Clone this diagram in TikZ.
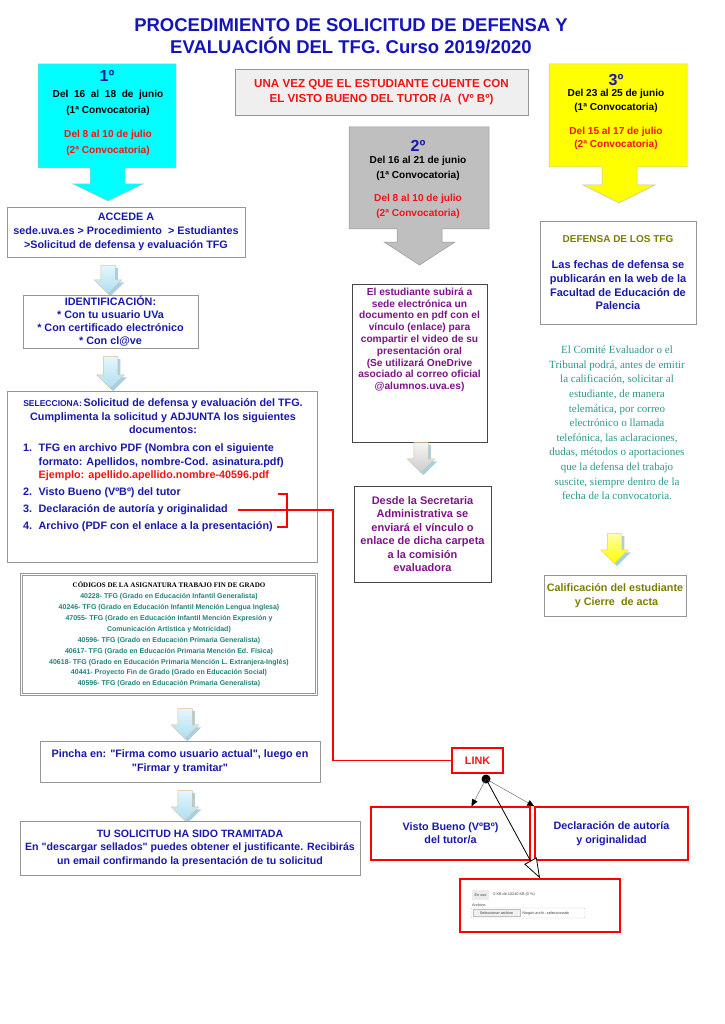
\documentclass[tikz,border=0pt]{standalone}
\usepackage{fontspec}
\setmainfont{Liberation Sans}
\newfontfamily\timesfont{Liberation Serif}
\usetikzlibrary{positioning,shapes.arrows,shadows,arrows.meta}

\definecolor{titleblue}{RGB}{20,20,185}
\definecolor{txtblue}{RGB}{25,25,170}
\definecolor{txtred}{RGB}{245,20,20}
\definecolor{frame}{RGB}{150,150,150}
\definecolor{darkframe}{RGB}{70,70,70}
\definecolor{aquafill}{RGB}{0,255,255}
\definecolor{grayfill}{RGB}{191,191,191}
\definecolor{palefill}{RGB}{239,239,239}
\definecolor{yellowfill}{RGB}{255,255,0}
\definecolor{purpletxt}{RGB}{125,20,135}
\definecolor{olivetxt}{RGB}{125,125,0}
\definecolor{tealtxt}{RGB}{45,150,140}
\definecolor{tealcode}{RGB}{30,130,120}
\definecolor{skytop}{RGB}{228,246,252}
\definecolor{skybot}{RGB}{175,222,240}
\definecolor{tanline}{RGB}{215,190,150}
\definecolor{shadowblue}{RGB}{60,150,200}

\newcommand{\setfs}[2]{\fontsize{#1}{#2}\selectfont}
\newcommand{\q}{\textquotedbl}

\begin{document}
\begin{tikzpicture}[x=1pt,y=-1pt,
  every node/.style={inner sep=0pt,font=\setfs{10.8}{14}\bfseries},
  box/.style={draw=frame,line width=.8pt,fill=white,align=center},
  redbox/.style={draw=red,line width=1.4pt,fill=white,align=center,text=txtblue},
  blocktail/.style={single arrow,shape border rotate=270,minimum height=30,
    inner sep=7pt,single arrow head extend=6.5pt,draw=tanline,line width=.5pt,
    drop shadow={shadow xshift=2.5pt,shadow yshift=-2.5pt,fill=shadowblue,opacity=.45}},
  skyarrow/.style={blocktail,top color=skytop,bottom color=skybot},
  grayarrow/.style={blocktail,top color=gray!8,bottom color=gray!40},
  yellowarrow/.style={blocktail,top color=yellow!35,bottom color=yellowfill,draw=yellow!70!orange},
  datefont/.style={align=center,font=\setfs{10.1}{#1}\bfseries},
  widget/.style={font=\setfs{3.8}{4.5}\mdseries,text=black!75},
  redlink/.style={draw=red,line width=1.2pt},
  thinlink/.style={draw=gray!70!black,line width=.4pt,-{Triangle[black,length=7pt,width=6pt]}}]
  \useasboundingbox (0,0) rectangle (724,1024);

  \node (T) at (351,36) [text=titleblue,align=center,font=\setfs{18.5}{22}\bfseries]
    {PROCEDIMIENTO DE SOLICITUD DE DEFENSA Y\\EVALUACIÓN DEL TFG. Curso 2019/2020};

  % the three dated boxes
  \filldraw[draw=frame!60,fill=aquafill,line width=.5pt] (38,64) -- (176,64) -- (176,168) -- (125,168) -- (125,184) -- (143,184) -- (108,201) -- (73,184) -- (90,184) -- (90,168) -- (38,168) -- cycle;
  \filldraw[draw=frame,fill=grayfill,line width=.5pt] (349,127) -- (489,127) -- (489,229) -- (442,229) -- (442,242) -- (455,242) -- (419.5,265) -- (384,242) -- (397,242) -- (397,229) -- (349,229) -- cycle;
  \filldraw[draw=frame!60,fill=yellowfill,line width=.5pt] (549,64) -- (687,64) -- (687,167) -- (637,167) -- (637,185) -- (655,185) -- (619,203) -- (583,185) -- (602,185) -- (602,167) -- (549,167) -- cycle;
  \node (O1) at (107,76) [text=txtblue,font=\setfs{16}{16}\bfseries] {1º};
  \node (F1) at (108,123) [datefont=16]
    {Del \ 16 \ al \ 18 \ de \ junio\\(1ª Convocatoria)\\[8pt]\textcolor{txtred}{Del 8 al 10 de julio}\\\textcolor{txtred}{(2ª Convocatoria)}};
  \node (O2) at (418,146) [text=txtblue,font=\setfs{16}{16}\bfseries] {2º};
  \node (F2) at (418,187) [datefont=15]
    {Del 16 al 21 de junio\\(1ª Convocatoria)\\[8pt]\textcolor{txtred}{Del 8 al 10 de julio}\\\textcolor{txtred}{(2ª Convocatoria)}};
  \node (O3) at (616,80) [text=txtblue,font=\setfs{16}{16}\bfseries] {3º};
  \node (F3) at (616,119.5) [datefont=13.5]
    {Del 23 al 25 de junio\\(1ª Convocatoria)\\[10.5pt]\textcolor{txtred}{Del 15 al 17 de julio}\\\textcolor{txtred}{(2ª Convocatoria)}};

  \node (VB0) at (381.5,92) [box,fill=palefill,minimum width=293,minimum height=46,text=txtred,font=\setfs{11.6}{15}\bfseries]
    {UNA VEZ QUE EL ESTUDIANTE CUENTE CON\\EL VISTO BUENO DEL TUTOR /A \ (Vº Bº)};

  % left column
  \node (ACC) at (126,232) [box,minimum width=238,minimum height=50,text=txtblue]
    {ACCEDE A\\sede.uva.es > Procedimiento \ > Estudiantes\\>Solicitud de defensa y evaluación TFG};
  \node (A1) at (108,276) [skyarrow,minimum height=28] {};
  \node (ID) at (110.5,321.5) [box,minimum width=175,minimum height=53,text=txtblue,font=\setfs{10.8}{13}\bfseries]
    {IDENTIFICACIÓN:\\* Con tu usuario UVa\\* Con certificado electrónico\\* Con cl@ve};
  \node (A2) at (110.5,369) [skyarrow,minimum height=32] {};
  \node (SEL) at (162,476.5) [box,minimum width=310,minimum height=171] {};
  \node (SH) at (163,416.5) [text=txtblue,align=center,font=\setfs{10.8}{13.5}\bfseries]
    {{\setfs{8.5}{13.5}SELECCIONA:}\,Solicitud de defensa y evaluación del TFG.\\Cumplimenta la solicitud y ADJUNTA los siguientes\\documentos:};
  \node (I1) at (23,462.5) [anchor=west,align=left,text=txtblue,font=\setfs{10.8}{13.5}\bfseries]
    {\makebox[15.5pt][l]{1.}TFG en archivo PDF (Nombra con el siguiente\\\hspace*{15.5pt}formato: Apellidos, nombre-Cod. asinatura.pdf)\\\hspace*{15.5pt}\textcolor{txtred}{Ejemplo: apellido.apellido.nombre-40596.pdf}};
  \node (I2) at (23,493) [anchor=west,text=txtblue] {\makebox[15.5pt][l]{2.}Visto Bueno (VºBº) del tutor};
  \node (I3) at (23,510) [anchor=west,text=txtblue] {\makebox[15.5pt][l]{3.}Declaración de autoría y originalidad};
  \node (I4) at (23,527) [anchor=west,text=txtblue] {\makebox[15.5pt][l]{4.}Archivo (PDF con el enlace a la presentación)};
  \coordinate (BR) at ([xshift=10pt]I3.east);

  \node (COD) at (169,634.5) [draw=frame,double=white,double distance=1.6pt,line width=.7pt,minimum width=295,minimum height=120,
    align=center,text=tealcode,font=\setfs{7}{10.9}\bfseries]
    {{\timesfont\color{black}CÓDIGOS DE LA ASIGNATURA TRABAJO FIN DE GRADO}\\
     40228- TFG (Grado en Educación Infantil Generalista)\\
     40246- TFG (Grado en Educación Infantil Mención Lengua Inglesa)\\
     47055- TFG (Grado en Educación Infantil Mención Expresión y\\
     Comunicación Artística y Motricidad)\\
     40596- TFG (Grado en Educación Primaria Generalista)\\
     40617- TFG (Grado en Educación Primaria Mención Ed. Física)\\
     40618- TFG (Grado en Educación Primaria Mención L. Extranjera-Inglés)\\
     40441- Proyecto Fin de Grado (Grado en Educación Social)\\
     40596- TFG (Grado en Educación Primaria Generalista)};

  \node (A3) at (185,720) [skyarrow] {};
  \node (PIN) at (180,761.5) [box,minimum width=280,minimum height=41,text=txtblue]
    {Pincha en: \q Firma como usuario actual\q, luego en\\\q Firmar y tramitar\q};
  \node (A4) at (185,802) [skyarrow] {};
  \node (TRA) at (190,848) [box,minimum width=340,minimum height=54,text=txtblue,font=\setfs{10.6}{13.5}\bfseries]
    {TU SOLICITUD HA SIDO TRAMITADA\\En \q descargar sellados\q\ puedes obtener el justificante. Recibirás\\un email confirmando la presentación de tu solicitud};

  % middle column
  \node (EST) at (419.5,363) [box,draw=darkframe,minimum width=135,minimum height=158] {};
  \node (ESTT) [below=4pt of EST.north,text=purpletxt,align=center,font=\setfs{10.2}{11.8}\bfseries]
    {El estudiante subirá a\\sede electrónica un\\documento en pdf con el\\vínculo (enlace) para\\compartir el video de su\\presentación oral\\(Se utilizará OneDrive\\asociado al correo oficial\\@alumnos.uva.es)};
  \node (AG) at (421,454) [grayarrow] {};
  \node (DES) at (422.5,534) [box,draw=darkframe,minimum width=137,minimum height=96,text=purpletxt,font=\setfs{11}{13.4}\bfseries]
    {Desde la Secretaria\\Administrativa se\\enviará el vínculo o\\enlace de dicha carpeta\\a la comisión\\evaluadora};

  % right column
  \node (DEF) at (618,272.5) [box,minimum width=156,minimum height=103,text=txtblue,font=\setfs{11}{13.7}\bfseries]
    {\textcolor{olivetxt}{\setfs{10}{13.7}DEFENSA DE LOS TFG}\\[13pt]Las fechas de defensa se\\publicarán en la web de la\\Facultad de Educación de\\Palencia};
  \node (COM) at (617,423) [text=tealtxt,align=center,font=\timesfont\setfs{11}{14.6}]
    {El Comité Evaluador o el\\Tribunal podrá, antes de emitir\\la calificación, solicitar al\\estudiante, de manera\\telemática, por correo\\electrónico o llamada\\telefónica, las aclaraciones,\\dudas, métodos o aportaciones\\que la defensa del trabajo\\suscite, siempre dentro de la\\fecha de la convocatoria.};
  \node (AY) at (614.5,545) [yellowarrow] {};
  \node (CAL) at (615,595.5) [box,minimum width=142,minimum height=41,text=olivetxt]
    {Calificación del estudiante\\ \ y Cierre \ de acta};

  % link and attachments
  \node (LNK) at (477.5,760.5) [redbox,minimum width=51,minimum height=25,text=txtred] {LINK};
  \node (VBT) at (450.5,833.5) [redbox,minimum width=159,minimum height=53,font=\setfs{10.8}{13}\bfseries] {Visto Bueno (VºBº)\\del tutor/a};
  \node (DCL) at (611.5,833.5) [redbox,minimum width=153,minimum height=53] {Declaración de autoría\\y originalidad};
  \node (UPL) at (540,905.5) [redbox,minimum width=160,minimum height=53] {};
  \node (USE) at (480.5,895) [fill=gray!15,minimum width=17,minimum height=10,widget] {En uso};
  \node (USEV) [right=4pt of USE,widget] {0 KB de 10240 KB (0 \%)};
  \node (ARC) at (472,905) [anchor=west,widget] {Archivo:};
  \node (FLD) at (528,913) [draw=gray!40,rounded corners=1pt,minimum width=114,minimum height=10] {};
  \node (BTN) at (496.5,913) [fill=gray!12,draw=gray!50,minimum width=47,minimum height=7,widget] {Seleccionar archivo};
  \node (NON) [right=2pt of BTN,widget] {Ningún archi...seleccionado};

  \draw[redlink] (278,494) -| (287,527) -- (277,527);
  \draw[redlink] (BR) -- ++(95,0) |- (LNK);
  \coordinate (HUB) at (486,779);
  \fill (HUB) circle (4.5);
  \draw[thinlink] (HUB) -- ([xshift=21pt]VBT.north);
  \draw[thinlink] (HUB) -- (DCL.north west);
  \draw[black,line width=.8pt,-{Triangle[length=20pt,width=14pt,fill=white]}] (HUB) -- (UPL.north);
\end{tikzpicture}
\end{document}
